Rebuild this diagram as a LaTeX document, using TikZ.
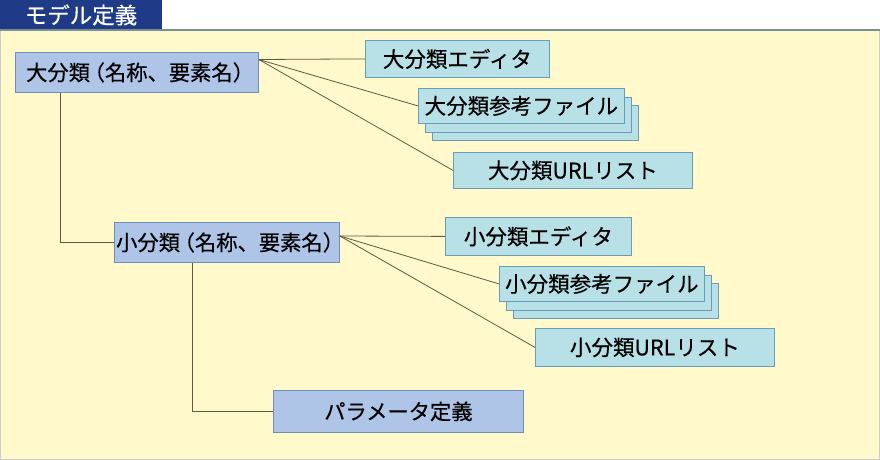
\documentclass[tikz,border=0pt]{standalone}
\usepackage{fontspec}
\setmainfont[FakeBold=0.4]{Noto Sans CJK JP}
\usepackage{tikz}
\usetikzlibrary{positioning}

\definecolor{tabnavy}{HTML}{1F3B88}
\definecolor{panelyellow}{HTML}{FFF9CC}
\definecolor{catblue}{HTML}{AEC5E8}
\definecolor{catedge}{HTML}{6F8FB8}
\definecolor{itemcyan}{HTML}{B7E1E6}
\definecolor{itemedge}{HTML}{6C9CB4}
\definecolor{linkgray}{HTML}{5C5A40}
\newcommand{\jplp}{\kern-.3em（}
\newcommand{\jprp}{）\kern-.3em}

\begin{document}
\begin{tikzpicture}[x=1pt,y=-1pt,
		catbox/.style={draw=catedge, fill=catblue, line width=0.8pt, anchor=north west, inner sep=0pt, font=\fontsize{21.3}{24}\selectfont},
		itembox/.style={draw=itemedge, fill=itemcyan, line width=0.8pt, anchor=north west, inner sep=0pt, font=\fontsize{21.5}{24}\selectfont},
		link/.style={draw=linkgray, line width=0.8pt}]
					\useasboundingbox (0,0) rectangle (880,460);
					% panel and title tab
					\fill[panelyellow] (0,30) rectangle (880,460);
					\draw[gray!40] (0.5,30) -- (0.5,459.5) -- (879.5,459.5) -- (879.5,30);
					\draw[color={rgb,255:red,122;green,144;blue,144}, line width=1.5pt] (0,30) -- (880,30);
					\fill[tabnavy] (0,0) rectangle (162,29.5);
					\node[text=white, font=\fontsize{22.5}{24}\selectfont] (title) at (81,15) {モデル定義};
					
					% large category
					\node[catbox, minimum width=243pt, minimum height=40pt] (dai) at (15,52) {大分類\jplp 名称、要素名\jprp};
					\node[itembox, minimum width=184pt, minimum height=37pt] (dai_ed) at (365,40) {大分類エディタ};
					\node[itembox, minimum width=206pt, minimum height=35pt] (dai_ref3) at (432,105) {};
					\node[itembox, minimum width=206pt, minimum height=35pt] (dai_ref2) at (425,96.5) {};
					\node[itembox, minimum width=206pt, minimum height=35pt] (dai_ref) at (418,88) {大分類参考ファイル};
					\node[itembox, minimum width=239pt, minimum height=36pt] (dai_url) at (453,152) {大分類URLリスト};
					
					% small category
					\node[catbox, minimum width=225pt, minimum height=40pt] (sho) at (114,222) {小分類\jplp 名称、要素名\jprp};
					\node[itembox, minimum width=186pt, minimum height=38pt] (sho_ed) at (445,217) {小分類エディタ};
					\node[itembox, minimum width=205pt, minimum height=35pt] (sho_ref3) at (513,283) {};
					\node[itembox, minimum width=205pt, minimum height=35pt] (sho_ref2) at (506,274.5) {};
					\node[itembox, minimum width=205pt, minimum height=35pt] (sho_ref) at (499,266) {小分類参考ファイル};
					\node[itembox, minimum width=239pt, minimum height=38pt] (sho_url) at (535,328) {小分類URLリスト};
					
					% parameters
					\node[catbox, minimum width=250pt, minimum height=42pt] (param) at (273,390) {パラメータ定義};
					
					\coordinate (dai_out) at ([yshift=-7.5pt]dai.north east);
					\coordinate (sho_out) at ([yshift=-14pt]sho.north east);
					
					\path[link] 
					(dai_out)
					edge (dai_ed.west)
					edge (dai_ref.west)
					edge (dai_url.west)
					(sho_out)
					edge (sho_ed.west)
					edge (sho_ref.west)
					edge (sho_url.west);
					\draw[link] ([xshift=45pt]dai.south west) |- (sho.west);
					\draw[link] ([xshift=78pt]sho.south west) |- (param.west);
				\end{tikzpicture}
\end{document}
